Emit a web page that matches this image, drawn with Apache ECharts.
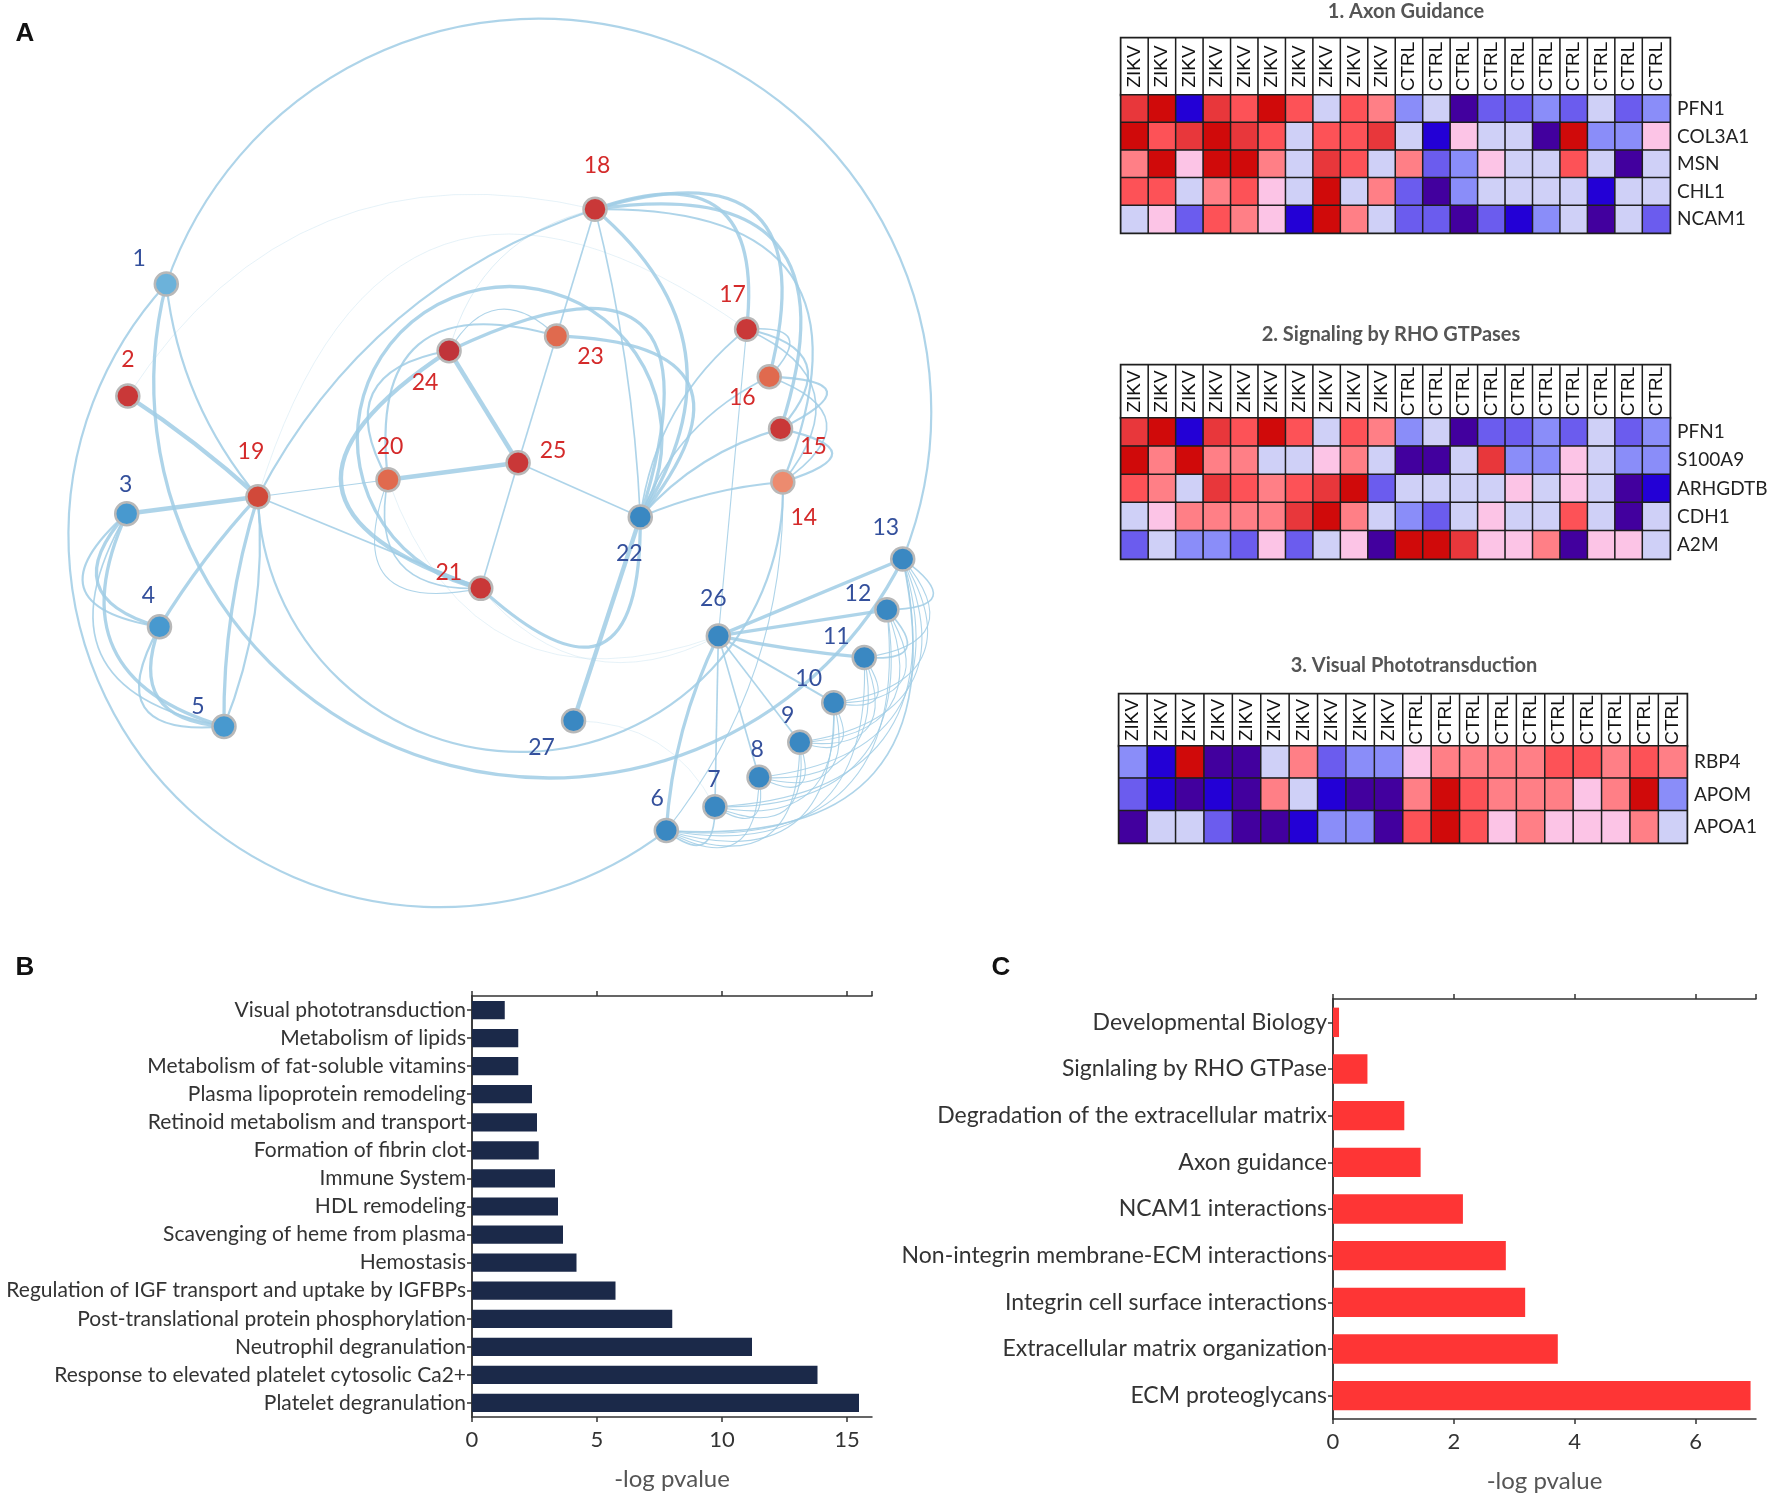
<!DOCTYPE html>
<html><head><meta charset="utf-8">
<script src="https://cdn.jsdelivr.net/npm/echarts@6/dist/echarts.min.js"></script>
<style>html,body{margin:0;padding:0;background:#fff}#c{width:1774px;height:1495px}</style>
</head><body><div id="c"></div><script>
// ---------- DATA ----------
// Network (panel A): node layout coordinates (layout units), regulation class, edges [source, target, weight]
const nodeNames = ['1','2','3','4','5','6','7','8','9','10','11','12','13','14','15','16','17','18','19','20','21','22','23','24','25','26','27'];
const nodeX = [147,113,112,141,198,589,632,671,707,737,764,784,798,692,690,680,660,526,228,343,425,566,492,397,458,635,507];
const nodeY = [251,350,454,554,642,734,713,687,656,621,581,539,494,426,379,333,291,185,439,424,520,457,297,310,409,562,637];
const nodeRegulation = ['down','up','down','down','down','down','down','down','down','down','down','down','down','up','up','up','up','up','up','up','up','down','up','up','up','down','down'];
const edges = [
 [1,19,2],[2,19,4],[3,19,4],[4,19,3],[5,19,3],[5,19,2],
 [3,4,3],[3,4,2],[3,5,3],[3,5,1.5],[4,5,3],[4,5,2],[18,19,2],[2,18,0.6],[19,20,1],[19,21,1.5],
 [20,25,4],[24,25,4],[23,25,1.5],[21,25,1.5],[22,25,1.5],[18,23,1.5],[18,22,1.5],
 [18,17,3],[18,16,3],[18,15,3],[18,14,2],
 [17,15,2],[16,15,2],[15,14,2],[16,14,1.5],[17,14,1.5],[17,16,1.5],
 [22,14,2],[22,15,2],[22,16,1.5],[22,17,1.5],[22,18,3],[23,22,3],[24,23,1],[21,24,4],[20,24,2],
 [24,22,3],[21,22,3],[22,27,4],[20,21,1.5],[20,21,1],[20,23,2],
 [26,13,3],[26,12,3],[26,11,3],[26,10,2],[26,9,1.5],[26,8,1.5],[26,7,1.5],[26,6,3],[26,17,1],
 [14,6,1],[13,6,1.5],[12,6,1],[11,6,1],[10,6,1],[9,6,1],[8,6,1],[7,6,1.5],
 [13,7,1],[12,7,1],[11,8,1],[10,7,1],[13,12,1.5],[12,11,1.5],[11,10,1],[10,9,1],[9,8,1],[8,7,1],
 [13,11,1],[13,10,1],[13,9,1],[12,9,1],[11,9,1],[12,10,1],[10,8,1],[9,7,1],[13,8,1],
 [19,17,0.6],[20,26,0.6],[21,26,0.6],[24,18,0.8],[27,7,0.6]
];
// long edges drawn as circular arcs [source, target, weight]
const arcEdges = [[1,13,2],[1,13,3],[1,6,2],[19,14,2],[21,22,3]];

// Heatmaps: sample groups, genes, expression levels (-5 low ... 4 high)
const samples = ['ZIKV','ZIKV','ZIKV','ZIKV','ZIKV','ZIKV','ZIKV','ZIKV','ZIKV','ZIKV','CTRL','CTRL','CTRL','CTRL','CTRL','CTRL','CTRL','CTRL','CTRL','CTRL'];
const hm1Title = '1. Axon Guidance';
const hm1Genes = ['PFN1','COL3A1','MSN','CHL1','NCAM1'];
const hm1Values = [
 [3,4,-4,3,2,4,2,-1,2,1,-2,-1,-5,-3,-3,-2,-3,-1,-3,-2],
 [4,2,3,4,3,2,-1,2,2,3,-1,-4,0,-1,-1,-5,4,-2,-2,0],
 [1,4,0,4,4,1,-1,3,2,-1,1,-3,-2,0,-1,-1,2,-1,-5,-1],
 [2,2,-1,1,2,0,-1,4,-1,1,-3,-5,-2,-1,-1,-1,-1,-4,-1,-1],
 [-1,0,-3,2,1,0,-4,4,1,-1,-3,-3,-5,-3,-4,-2,-1,-5,-1,-3]
];
const hm2Title = '2. Signaling by RHO GTPases';
const hm2Genes = ['PFN1','S100A9','ARHGDTB','CDH1','A2M'];
const hm2Values = [
 [3,4,-4,3,2,4,2,-1,2,1,-2,-1,-5,-3,-3,-2,-3,-1,-3,-2],
 [4,1,4,1,1,-1,-1,0,1,-1,-5,-5,-1,3,-2,-2,0,-1,-2,-2],
 [2,1,-1,3,2,1,2,3,4,-3,-1,-1,-1,-1,0,-1,0,-1,-5,-4],
 [-1,0,1,1,1,1,3,4,1,-1,-2,-3,-1,0,-1,-1,2,-1,-5,-1],
 [-3,-1,-2,-2,-3,0,-3,-1,0,-5,4,4,3,0,0,1,-5,0,0,-1]
];
const hm3Title = '3. Visual Phototransduction';
const hm3Genes = ['RBP4','APOM','APOA1'];
const hm3Values = [
 [-2,-4,4,-5,-5,-1,1,-3,-2,-2,0,1,1,1,1,2,2,1,2,1],
 [-3,-4,-5,-4,-5,1,-1,-4,-5,-5,1,4,2,1,1,1,0,1,4,-2],
 [-5,-1,-1,-3,-5,-5,-4,-2,-2,-5,2,4,2,0,1,0,0,0,1,-1]
];

// Panel B
const bCategories = ['Visual phototransduction','Metabolism of lipids','Metabolism of fat-soluble vitamins','Plasma lipoprotein remodeling','Retinoid metabolism and transport','Formation of fibrin clot','Immune System','HDL remodeling','Scavenging of heme from plasma','Hemostasis','Regulation of IGF transport and uptake by IGFBPs','Post-translational protein phosphorylation','Neutrophil degranulation','Response to elevated platelet cytosolic Ca2+','Platelet degranulation'];
const bValues = [1.31,1.85,1.85,2.4,2.6,2.67,3.32,3.44,3.64,4.18,5.74,8.01,11.2,13.82,15.48];
// Panel C
const cCategories = ['Developmental Biology','Signlaling by RHO GTPase','Degradation of the extracellular matrix','Axon guidance','NCAM1 interactions','Non-integrin membrane-ECM interactions','Integrin cell surface interactions','Extracellular matrix organization','ECM proteoglycans'];
const cValues = [0.1,0.57,1.18,1.45,2.15,2.86,3.18,3.72,6.91];
const axisName = '-log pvalue';

// ---------- STYLE ----------
const edgeCurveness = [
 -0.15,0.04,0,0.05,0.08,-0.12,
 -0.8,-1.05,-0.58,-0.7,-0.67,-0.95,-0.2,0.35,0,0,
 0,0,0,0,0,0,0.05,
 0.8,0.89,0.81,0.75,
 0.86,2.0,1.9,0.96,0.65,1.3,
 0.08,0.15,0.2,0.2,-0.44,1.0,0.63,1.04,0.71,
 1.15,-1.14,0,-0.63,-0.9,0.75,
 0,0,-0.03,0,0,0,0,-0.1,0,
 0.18,0.66,0.62,0.62,0.68,0.75,0.85,1.04,
 0.6,0.6,0.65,0.65,1.5,1.3,1.2,1.2,1.2,1.1,
 0.9,0.75,0.65,0.7,0.85,0.9,0.85,0.85,0.6,
 0.69,-0.5,-0.4,0.3,0.3
];
const arcSweep = [183,-168,-170,-180,290];   // degrees, sign = side of bulge
const nodeColor = ['#6cb2da','#c93838','#4899cf','#4899cf','#4899cf','#3a88c2','#3a88c2','#3a88c2','#3a88c2','#3a88c2','#3a88c2','#3a88c2','#3a88c2','#ec8b6f','#c93838','#e06a4e','#c93838','#c93838','#d1493a','#e06a4e','#c93838','#3a88c2','#e06a4e','#c0343a','#c93838','#3a88c2','#3a88c2'];
const labelOffset = [[-27,-25],[0,-36],[-1,-29],[-11,-31],[-26,-20],[-9,-32],[-1,-27],[-2,-28],[-12,-27],[-25,-24],[-28,-21],[-29,-16],[-17,-31],[21,36],[33,18],[-27,21],[-14,-35],[2,-44],[-7,-45],[2,-33],[-32,-16],[-11,36],[34,21],[-24,32],[35,-12],[-5,-37],[-32,27]];
const levelColors = {'-5':'#42009e','-4':'#2300d6','-3':'#6b5cee','-2':'#8a8df9','-1':'#cfd0f7','0':'#fcc4e6','1':'#ff7f86','2':'#fd5257','3':'#e8373b','4':'#d00a0a'};
const EDGE = '#a0cde5';
const FONT = 'Lato, "Open Sans", sans-serif';

// ---------- BUILD ----------
const chart = echarts.init(document.getElementById('c'), null, {renderer:'canvas'});
function cells(vals){const out=[];vals.forEach((row,r)=>row.forEach((v,c)=>out.push([c,r,v])));return out;}
function headerCells(){return samples.map((s,i)=>[i,0,0]);}
const idx = n => nodeNames.indexOf(String(n));
const hmLayout = [
 {left:1121,width:549,hTop:38,hH:57,dTop:95,dH:138,genes:hm1Genes,vals:hm1Values},
 {left:1121,width:549,hTop:365,hH:53,dTop:418,dH:141,genes:hm2Genes,vals:hm2Values},
 {left:1119,width:568,hTop:694,hH:52,dTop:746,dH:97,genes:hm3Genes,vals:hm3Values}
];
const grids=[{left:0,top:0,width:1000,height:938}];
const xAxes=[{gridIndex:0,type:'value',min:0,max:884,show:false}];
const yAxes=[{gridIndex:0,type:'value',min:0,max:829,inverse:true,show:false}];
const series=[];
series.push({
 type:'graph',coordinateSystem:'cartesian2d',xAxisIndex:0,yAxisIndex:0,silent:true,z:3,
 symbol:'circle',symbolSize:23,edgeSymbol:['none','none'],
 itemStyle:{borderColor:'#b8b8b8',borderWidth:2.5},
 label:{show:true,position:'inside',fontSize:23,fontFamily:FONT},
 lineStyle:{color:EDGE,opacity:0.9},
 data:nodeNames.map((n,i)=>({name:n,value:[nodeX[i],nodeY[i]],itemStyle:{color:nodeColor[i]},
   label:{offset:labelOffset[i],color:nodeRegulation[i]==='up'?'#d42a2a':'#34509c'}})),
 links:edges.map((e,i)=>({source:String(e[0]),target:String(e[1]),
   lineStyle:{width:e[2]*1.1,curveness:edgeCurveness[i],opacity:e[2]<1?0.4:0.85}}))
});
// circular-arc edges
series.push({
 type:'custom',coordinateSystem:'cartesian2d',xAxisIndex:0,yAxisIndex:0,silent:true,z:2,clip:false,
 data:arcEdges.map((e,i)=>[nodeX[idx(e[0])],nodeY[idx(e[0])],nodeX[idx(e[1])],nodeY[idx(e[1])],arcSweep[i],e[2]]),
 renderItem:(params,api)=>{
   const p1=api.coord([api.value(0),api.value(1)]), p2=api.coord([api.value(2),api.value(3)]);
   const sw=api.value(4)*Math.PI/180, w=api.value(5);
   const sg=Math.sign(sw), th=Math.abs(sw);
   const dx=p2[0]-p1[0], dy=p2[1]-p1[1], L=Math.hypot(dx,dy);
   const n=[sg*dy/L,-sg*dx/L];
   const r=L/(2*Math.sin(th/2)), h=r*Math.cos(th/2);
   const M=[(p1[0]+p2[0])/2,(p1[1]+p2[1])/2];
   const c=[M[0]-n[0]*h,M[1]-n[1]*h];
   const a1=Math.atan2(p1[1]-c[1],p1[0]-c[0]), a2=Math.atan2(p2[1]-c[1],p2[0]-c[0]);
   const ap=Math.atan2(n[1],n[0]);
   const norm=a=>((a%(2*Math.PI))+2*Math.PI)%(2*Math.PI);
   const cw=norm(ap-a1)<norm(a2-a1);
   return {type:'arc',shape:{cx:c[0],cy:c[1],r:r,startAngle:a1,endAngle:a2,clockwise:cw},
     style:{stroke:EDGE,fill:null,lineWidth:w*1.1,opacity:0.85}};
 }
});
const gridBorder={show:true,borderColor:'#1e1e1e',borderWidth:2.5,backgroundColor:'rgba(0,0,0,0)'};
const dataHeatIdx=[];
hmLayout.forEach((h,k)=>{
 const gi=grids.length;
 grids.push(Object.assign({left:h.left,top:h.hTop,width:h.width,height:h.hH},gridBorder));
 grids.push(Object.assign({left:h.left,top:h.dTop,width:h.width,height:h.dH},gridBorder));
 xAxes.push({gridIndex:gi,type:'category',data:samples.map((s,i)=>i),show:false});
 yAxes.push({gridIndex:gi,type:'category',data:['h'],show:false});
 xAxes.push({gridIndex:gi+1,type:'category',data:samples.map((s,i)=>i),show:false});
 yAxes.push({gridIndex:gi+1,type:'category',data:h.genes,inverse:true,position:'right',
   axisLine:{show:false},axisTick:{show:false},
   axisLabel:{fontSize:19,color:'#222',margin:7,fontFamily:FONT}});
 series.push({type:'heatmap',xAxisIndex:gi,yAxisIndex:gi,silent:true,data:headerCells(),
   itemStyle:{color:'#ffffff',borderColor:'#1e1e1e',borderWidth:1.5},
   label:{show:true,rotate:90,fontSize:19,fontFamily:'"Liberation Sans", Arial, sans-serif',color:'#111',
     formatter:p=>samples[p.value[0]]}});
 dataHeatIdx.push(series.length);
 series.push({type:'heatmap',xAxisIndex:gi+1,yAxisIndex:gi+1,silent:true,data:cells(h.vals),
   itemStyle:{borderColor:'#1e1e1e',borderWidth:1.5}});
});
// Bar panels
function barPanel(g,cats,vals,max,interval,color,labelSize,barGap){
 const gi=grids.length;
 grids.push(g);
 const axLine={show:true,lineStyle:{color:'#333',width:1.5}};
 const tick={show:true,length:5,lineStyle:{color:'#333',width:1.5}};
 const xi=xAxes.length, yi=yAxes.length;
 xAxes.push({gridIndex:gi,type:'value',min:0,max:max,interval:interval,position:'bottom',
   axisLine:axLine,axisTick:tick,splitLine:{show:false},
   axisLabel:{fontSize:22,color:'#333',margin:12,fontFamily:FONT,showMaxLabel:false},
   name:axisName,nameLocation:'middle',nameGap:50,nameTextStyle:{fontSize:24,color:'#555',fontFamily:FONT}});
 xAxes.push({gridIndex:gi,type:'value',min:0,max:max,interval:interval,position:'top',
   axisLine:axLine,axisTick:tick,splitLine:{show:false},axisLabel:{show:false}});
 yAxes.push({gridIndex:gi,type:'category',data:cats,inverse:true,position:'left',
   axisLine:axLine,axisTick:Object.assign({alignWithLabel:true},tick),
   axisLabel:{fontSize:labelSize,color:'#333',margin:6,fontFamily:FONT}});
 yAxes.push({gridIndex:gi,type:'category',data:cats,inverse:true,position:'right',
   axisLine:axLine,axisTick:Object.assign({alignWithLabel:true},tick),axisLabel:{show:false}});
 series.push({type:'bar',xAxisIndex:xi,yAxisIndex:yi,data:vals,barCategoryGap:barGap,silent:true,
   itemStyle:{color:color}});
}
barPanel({left:472,top:996,width:400,height:421},bCategories,bValues,16,5,'#1b2949',21,'35%');
barPanel({left:1333,top:999,width:423,height:420},cCategories,cValues,7,2,'#fe3535',23,'37%');

chart.setOption({
 animation:false,
 backgroundColor:'#fff',
 grid:grids,xAxis:xAxes,yAxis:yAxes,series:series,
 visualMap:{type:'piecewise',show:false,dimension:2,seriesIndex:dataHeatIdx,
   pieces:Object.keys(levelColors).map(k=>({value:+k,color:levelColors[k]}))},
 graphic:[
  {type:'text',x:25,y:34,style:{text:'A',font:'bold 26px "Liberation Sans", Arial',fill:'#111',align:'center',verticalAlign:'middle'}},
  {type:'text',x:25,y:968,style:{text:'B',font:'bold 26px "Liberation Sans", Arial',fill:'#111',align:'center',verticalAlign:'middle'}},
  {type:'text',x:1001,y:968,style:{text:'C',font:'bold 26px "Liberation Sans", Arial',fill:'#111',align:'center',verticalAlign:'middle'}},
  {type:'text',x:1406,y:12,style:{text:hm1Title,font:'bold 20px '+FONT,fill:'#555',align:'center',verticalAlign:'middle'}},
  {type:'text',x:1391,y:335,style:{text:hm2Title,font:'bold 20px '+FONT,fill:'#555',align:'center',verticalAlign:'middle'}},
  {type:'text',x:1414,y:666,style:{text:hm3Title,font:'bold 20px '+FONT,fill:'#555',align:'center',verticalAlign:'middle'}}
 ]
});
</script></body></html>
